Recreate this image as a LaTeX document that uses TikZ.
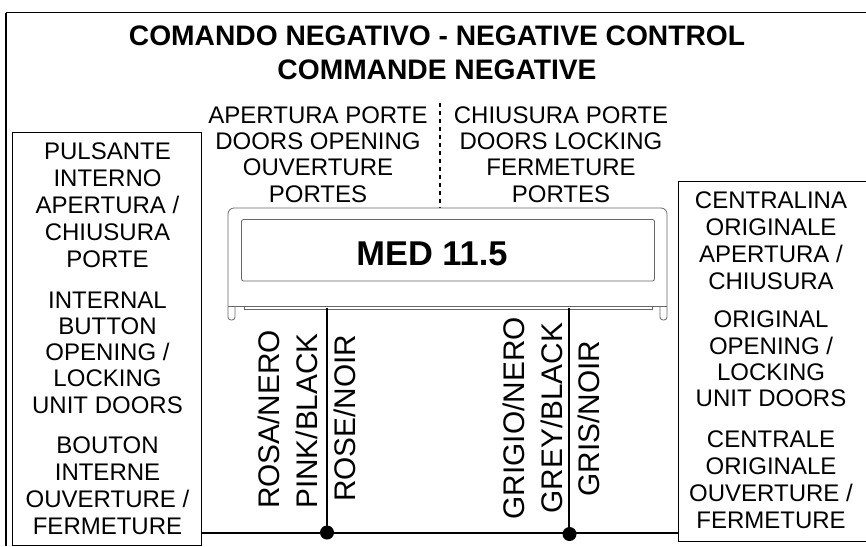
\documentclass[tikz,border=0pt]{standalone}
\usepackage{fontspec}
\setmainfont{Liberation Sans}
\tikzset{
	labelbox/.style={draw,line width=1pt,anchor=north west,inner sep=0pt},
	caption/.style={align=center,font=\fontsize{24}{27}\selectfont,inner sep=0pt},
	topcaption/.style={align=center,font=\fontsize{24}{26.3}\selectfont,inner sep=0pt},
	wirelabel/.style={rotate=90,anchor=base west,font=\fontsize{29.8}{30}\selectfont,inner sep=0pt},
	joint/.style={fill,circle,inner sep=0pt,minimum size=14pt},
	wire/.style={line width=2pt},
	housing/.style={draw=black!60,line width=0.8pt},
}
\begin{document}
\begin{tikzpicture}[x=1pt,y=-1pt]
		\useasboundingbox (0,0) rectangle (866,546);
		% frame
		\draw[line width=1.2pt] (6,12.5) -- (866,12.5);
		\draw[line width=1.2pt] (6,12.5) -- (6,546);
		
		\node[font=\bfseries\fontsize{28.2}{34}\selectfont,align=center,inner sep=0pt] (title) at (437,53) {COMANDO NEGATIVO - NEGATIVE CONTROL\\COMMANDE NEGATIVE};
		
		\node[topcaption] (open) at (318,154.5) {APERTURA PORTE\\DOORS OPENING\\OUVERTURE\\PORTES};
		\node[topcaption] (close) at (561,154.5) {CHIUSURA PORTE\\DOORS LOCKING\\FERMETURE\\PORTES};
		\coordinate (divtop) at (440,103);
		\coordinate (divbot) at (440,208);
		\draw[dash pattern=on 4pt off 4pt,line width=1.3pt] (divtop) -- (divbot);
		
		% unit
		\draw[housing,rounded corners=6pt] (228,306) -- (228,208) -- (667,208) -- (667,306);
		\draw[housing,rounded corners=2pt] (241.5,281) -- (241.5,219.5) -- (654.5,219.5) -- (654.5,281) -- cycle;
		\draw[housing] (228,306) -- (667,306);
		\draw[housing] (244.5,306) -- (244.5,309.5) -- (652,309.5) -- (652,306);
		\draw[housing,rounded corners=3pt] (228,306) -- (228,320) -- (235,320) -- (235,306);
		\draw[housing,rounded corners=3pt] (660,306) -- (660,320) -- (667,320) -- (667,306);
		\node[font=\bfseries\fontsize{34.4}{36}\selectfont,inner sep=0pt] (med) at (432,254) {MED 11.5};
		
		% side boxes
		\node[labelbox,minimum height=413pt,minimum width=189pt] (left) at (12,132) {};
		\node[labelbox,minimum height=360pt,minimum width=190pt] (right) at (678,181) {};
		\node[caption] (lefta) at (107.5,205) {PULSANTE\\INTERNO\\APERTURA /\\CHIUSURA\\PORTE};
		\node[topcaption] (leftb) at (107.5,352.5) {INTERNAL\\BUTTON\\OPENING /\\LOCKING\\UNIT DOORS};
		\node[caption] (leftc) at (107.5,486) {BOUTON\\INTERNE\\OUVERTURE /\\FERMETURE};
		\node[caption] (righta) at (771,240.5) {CENTRALINA\\ORIGINALE\\APERTURA /\\CHIUSURA};
		\node[topcaption] (rightb) at (771,359) {ORIGINAL\\OPENING /\\LOCKING\\UNIT DOORS};
		\node[caption] (rightc) at (771,480) {CENTRALE\\ORIGINALE\\OUVERTURE /\\FERMETURE};
		
		% wires
		\coordinate (pinka) at (327,308);
		\coordinate (greya) at (569,308);
		\node[joint] (pinkj) at (327,532.5) {};
		\node[joint] (greyj) at (569.5,534) {};
		\draw[wire] (pinka) -- (pinka |- pinkj);
		\draw[wire] (greya) -- (greya |- greyj);
		\draw[wire] (left.east |- pinkj) -- (pinkj) -- (greyj.center |- pinkj) -- (right.west |- pinkj);
		
		\node[wirelabel] (rosa) at (279,509) {ROSA/NERO};
		\node[wirelabel] (pink) at (317.5,509) {PINK/BLACK};
		\node[wirelabel] (rose) at (355.5,502) {ROSE/NOIR};
		\node[wirelabel] (grigio) at (524,519.5) {GRIGIO/NERO};
		\node[wirelabel] (grey) at (562,513.5) {GREY/BLACK};
		\node[wirelabel] (gris) at (599,496.5) {GRIS/NOIR};
\end{tikzpicture}
\end{document}
